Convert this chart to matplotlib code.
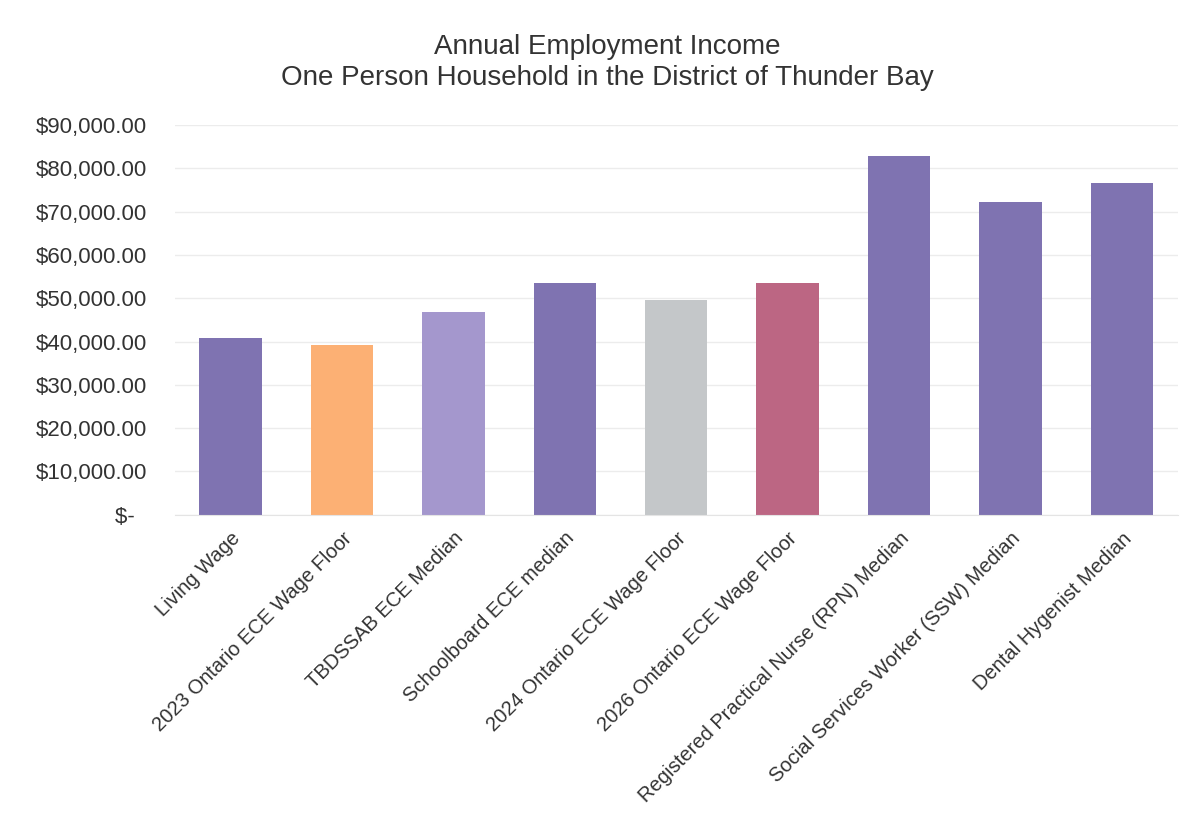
import matplotlib.pyplot as plt
from matplotlib.ticker import FuncFormatter

plt.rcParams['font.family'] = ['Liberation Sans', 'DejaVu Sans']

categories = ['Living Wage', '2023 Ontario ECE Wage Floor', 'TBDSSAB ECE Median',
              'Schoolboard ECE median', '2024 Ontario ECE Wage Floor',
              '2026 Ontario ECE Wage Floor', 'Registered Practical Nurse (RPN) Median',
              'Social Services Worker (SSW) Median', 'Dental Hygenist Median']
income = [40900, 39200, 46900, 53500, 49500, 53500, 82800, 72300, 76500]
colors = ['#7F73B1', '#FCB074', '#A497CD', '#7F73B1', '#C4C7C9',
          '#BC6683', '#7F73B1', '#7F73B1', '#7F73B1']
yticks = list(range(0, 90001, 10000))


def money(v, pos):
    if v == 0:
        return '$-  '
    return '${:,.2f}'.format(v)


fig = plt.figure(figsize=(11.98, 8.25), dpi=100)
ax = fig.add_axes([0.146, 0.376, 0.837, 0.4725])

x = range(len(categories))
ax.bar(x, income, width=0.56, color=colors, zorder=2)

ax.set_xlim(-0.5, len(categories) - 0.5)
ax.set_ylim(0, 90000)
ax.set_yticks(yticks)
ax.yaxis.set_major_formatter(FuncFormatter(money))
ax.grid(axis='y', color='#ECECEC', linewidth=1, zorder=0)

for s in ['top', 'right', 'left']:
    ax.spines[s].set_visible(False)
ax.spines['bottom'].set_color('#E4E4E4')

ax.tick_params(axis='both', length=0, colors='#333333')
ax.tick_params(axis='y', pad=20, labelsize=16)
ax.tick_params(axis='x', pad=10, labelsize=14.5)
ax.set_xticks(list(x))
ax.set_xticklabels(categories, rotation=45, ha='right', rotation_mode='anchor')

fig.text(0.507, 0.924, 'Annual Employment Income\nOne Person Household in the District of Thunder Bay',
         ha='center', va='center', fontsize=20, color='#333333', linespacing=1.28)

fig.savefig('out.png', dpi=100)
